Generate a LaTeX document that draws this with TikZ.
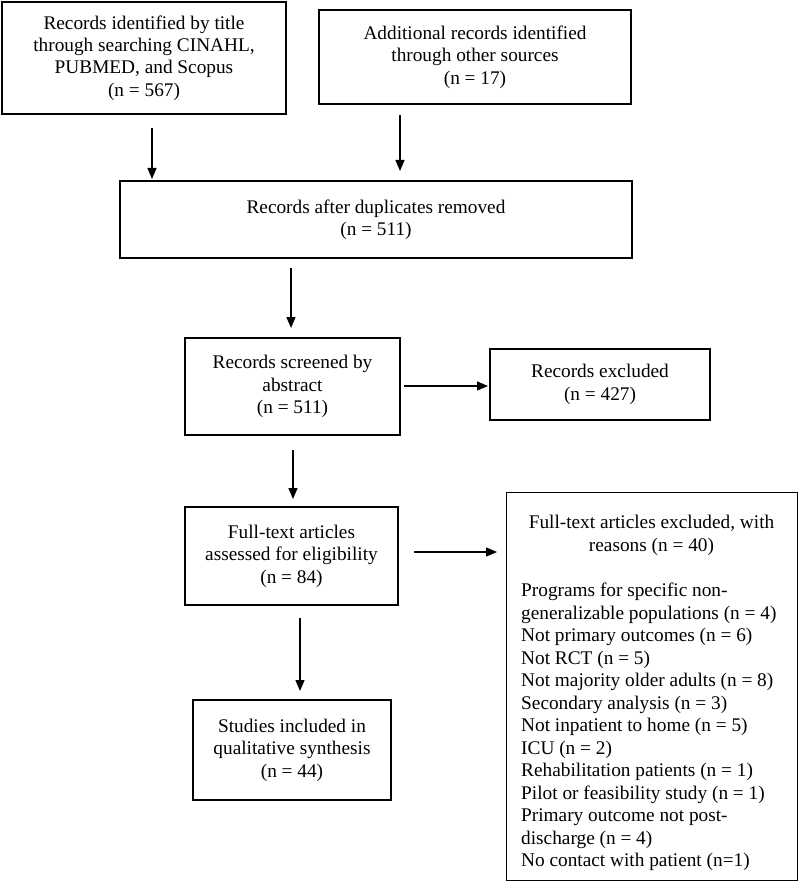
\documentclass[tikz,border=0pt]{standalone}
\usepackage{fontspec}
\setmainfont{Liberation Serif}
\usetikzlibrary{arrows.meta}
\begin{document}
\begin{tikzpicture}[x=1pt,y=-1pt,
  box/.style={draw=black, line width=1.4pt, inner sep=0pt, align=center,
    font=\fontsize{19.3}{22.4}\selectfont},
  txt/.style={inner sep=0pt, font=\fontsize{19.3}{22.5}\selectfont},
  arr/.style={line width=1.4pt, -{Triangle[length=11pt,width=9pt]}}]
\useasboundingbox (0,0) rectangle (800,882);
\node[box, minimum width=284, minimum height=112] (a) at (144,58)
  {Records identified by title\\through searching CINAHL,\\PUBMED, and Scopus\\(n = 567)};
\node[box, minimum width=312, minimum height=94] (b) at (475,57)
  {Additional records identified\\through other sources\\(n = 17)};
\node[box, minimum width=512, minimum height=77] (c) at (376,219.5)
  {Records after duplicates removed\\(n = 511)};
\node[box, minimum width=215, minimum height=97] (d) at (292.5,386.5)
  {Records screened by\\abstract\\(n = 511)};
\node[box, minimum width=220, minimum height=71] (e) at (600,384.5)
  {Records excluded\\(n = 427)};
\node[box, minimum width=213, minimum height=98] (f) at (291.5,556)
  {Full-text articles\\assessed for eligibility\\(n = 84)};
\node[box, minimum width=291, minimum height=388, anchor=north west] (g) at (506,492) {};
\node[txt, align=center, anchor=north] (gh) at (651.5,515)
  {Full-text articles excluded, with\\reasons (n = 40)};
\node[txt, align=left, anchor=north west] (gl) at (521,583)
  {Programs for specific non-\\generalizable populations (n = 4)\\Not primary outcomes (n = 6)\\Not RCT (n = 5)\\Not majority older adults (n = 8)\\Secondary analysis (n = 3)\\Not inpatient to home (n = 5)\\ICU (n = 2)\\Rehabilitation patients (n = 1)\\Pilot or feasibility study (n = 1)\\Primary outcome not post-\\discharge (n = 4)\\No contact with patient (n=1)};
\node[box, minimum width=198, minimum height=100] (h) at (292,750)
  {Studies included in\\qualitative synthesis\\(n = 44)};
\coordinate (a1) at (152,128); \coordinate (c1) at (152,179);
\coordinate (b1) at (400,115); \coordinate (c2) at (400,171);
\coordinate (c3) at (291,268); \coordinate (d1) at (291,328);
\coordinate (d2) at (404,386); \coordinate (e1) at (488,386);
\coordinate (d3) at (293,450); \coordinate (f1) at (293,499);
\coordinate (f2) at (414,552); \coordinate (g1) at (497,552);
\coordinate (f3) at (300,618); \coordinate (h1) at (300,691);
\draw[arr] (a1) -- (c1);
\draw[arr] (b1) -- (c2);
\draw[arr] (c3) -- (d1);
\draw[arr] (d2) -- (e1);
\draw[arr] (d3) -- (f1);
\draw[arr] (f2) -- (g1);
\draw[arr] (f3) -- (h1);
\end{tikzpicture}
\end{document}
